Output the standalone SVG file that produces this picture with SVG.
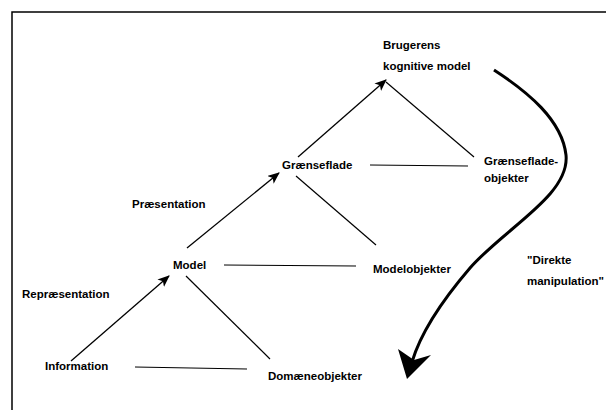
<svg xmlns="http://www.w3.org/2000/svg" width="608" height="410" viewBox="0 0 608 410">
<defs>
<marker id="ah" viewBox="0 0 12 10" refX="11" refY="5" markerWidth="12" markerHeight="10" markerUnits="userSpaceOnUse" orient="auto">
<path d="M0,0 L12,5 L0,10 L3,5 z" fill="#000"/>
</marker>
<style>
text{font-family:"Liberation Sans",Arial,sans-serif;font-size:11.5px;font-weight:bold;fill:#000}
.ln{stroke:#000;stroke-width:1.2;fill:none}
.ar{stroke:#000;stroke-width:1.3;fill:none;marker-end:url(#ah)}
</style>
</defs>
<rect width="608" height="410" fill="#fff"/>
<path d="M12,410 L12,12 L606,12" stroke="#000" stroke-width="1.5" fill="none"/>
<g id="connectors">
<line class="ar" x1="298" y1="157" x2="386" y2="80"/>
<line class="ln" x1="386" y1="82" x2="474" y2="157"/>
<line class="ln" x1="370" y1="165" x2="468" y2="166"/>
<line class="ar" x1="187" y1="248" x2="279" y2="173"/>
<line class="ln" x1="296" y1="176" x2="376" y2="245"/>
<line class="ln" x1="224" y1="265" x2="356" y2="266"/>
<line class="ar" x1="71" y1="361" x2="169" y2="276"/>
<line class="ln" x1="186" y1="276" x2="270" y2="359"/>
<line class="ln" x1="135" y1="367" x2="247" y2="369"/>
<path d="M494,70 C528,92 562,120 566,155 C570,195 505,228 470,268 C440,303 420,335 412,362" stroke="#000" stroke-width="3" fill="none"/>
<polygon points="407,379 398,349 414,360 431,355" fill="#000"/>
</g>
<g id="brugerens"><text x="383" y="49">Brugerens</text><text x="383" y="70">kognitive model</text></g>
<g id="graenseflade"><text x="282" y="169">Grænseflade</text></g>
<g id="graenseflade-objekter"><text x="484" y="165">Grænseflade-</text><text x="484" y="182">objekter</text></g>
<g id="praesentation"><text x="132" y="208">Præsentation</text></g>
<g id="direkte"><text x="527" y="264">"Direkte</text><text x="527" y="285">manipulation"</text></g>
<g id="model"><text x="173" y="269">Model</text></g>
<g id="modelobjekter"><text x="373" y="273">Modelobjekter</text></g>
<g id="repraesentation"><text x="22" y="298">Repræsentation</text></g>
<g id="information"><text x="45" y="370">Information</text></g>
<g id="domaeneobjekter"><text x="268" y="380">Domæneobjekter</text></g>
</svg>
